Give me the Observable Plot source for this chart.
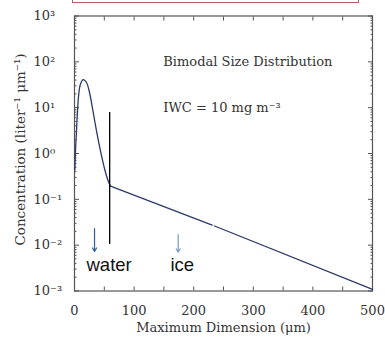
<!DOCTYPE html>
<html><head><meta charset="utf-8">
<script src="https://cdn.jsdelivr.net/npm/d3@7"></script>
<script src="https://cdn.jsdelivr.net/npm/@observablehq/plot@0.6"></script>
<style>
body{margin:0;background:#fff;}
#wrap{position:relative;width:385px;height:339px;overflow:hidden;}
#box{position:absolute;left:72px;top:-10px;width:285px;height:11px;border:1px solid #b0605c;background:#fff;}
</style></head><body><div id="wrap"><div id="box"></div></div>
<script>
// Size distribution curve (Maximum dimension in µm, concentration per liter per µm)
const curveD   = [0.5, 1.7, 3.4, 4.5, 7.2, 10.1, 14.6, 20.1, 25.2, 30.2, 34.4, 39.4, 45.3, 51.2, 56.2, 60.4, 231, 235, 500];
const curveC   = [0.43, 1.16, 3.2, 6.2, 20, 33, 41, 35.4, 21.4, 9.6, 4.74, 2.12, 0.90, 0.426, 0.258, 0.195, 0.0275, 0.0262, 0.00108];
// 0 = small-particle mode (smooth), 1 and 2 = large-particle tail pieces (straight on log axis)
const curveSeg = [0,0,0,0,0,0,0,0,0,0,0,0,0,0,0,0,1,2,2];

// Mode divider line
const dividerD = [59];
const dividerLow = [0.0103];
const dividerHigh = [7.8];

// Arrows
const arrowName = ["water", "ice"];
const arrowD = [33.6, 174];
const arrowTop = [0.0231, 0.0171];
const arrowBottom = [0.0073, 0.0070];
const arrowColor = ["#2d5f97", "#7b9cc2"];
const arrowLabelD = [20.1, 161];
const arrowLabelC = [0.0028, 0.0028];

// Annotations
const noteText = ["Bimodal Size Distribution", "IWC = 10 mg m\u207B\u00B3"];
const noteD = [149, 149];
const noteC = [100, 10];

// Axes
const xLabelTicks = [0, 100, 200, 300, 400, 500];
const xMinorTicks = [0, 50, 100, 150, 200, 250, 300, 350, 400, 450, 500];
const yExponents = [-3, -2, -1, 0, 1, 2, 3];
const supMap = {"-":"\u207B","0":"\u2070","1":"\u00B9","2":"\u00B2","3":"\u00B3"};
const yLabels = yExponents.map(e => "10" + String(e).split("").map(c => supMap[c]).join(""));
const yMajor = yExponents.map(e => Math.pow(10, e));
const yMinor = d3.scaleLog().domain([1e-3, 1e3]).ticks().filter(v => !yMajor.some(m => Math.abs(m - v) / m < 1e-9));

const xTitle = "Maximum Dimension (\u03BCm)";
const yTitle = "Concentration (liter\u207B\u00B9 \u03BCm\u207B\u00B9)";

const curve = curveD.map((d, i) => ({d, c: curveC[i], s: curveSeg[i]}));
const peakPart = curve.filter(p => p.s === 0);
const lastPeak = peakPart[peakPart.length - 1];
const tailPart = [{...lastPeak, s: 1}, ...curve.filter(p => p.s > 0)];
const arrows = arrowName.map((n, i) => ({n, d: arrowD[i], top: arrowTop[i], bottom: arrowBottom[i], color: arrowColor[i], ld: arrowLabelD[i], lc: arrowLabelC[i]}));
const notes = noteText.map((t, i) => ({t, d: noteD[i], c: noteC[i]}));
const yLabelOf = new Map(yMajor.map((v, i) => [v, yLabels[i]]));

const axisStroke = "#555";
const lineColor = "#2b3a6b";
const plot = Plot.plot({
  width: 385, height: 339,
  marginLeft: 74, marginRight: 13, marginTop: 15.5, marginBottom: 48.5,
  style: {fontFamily: "DejaVu Serif", fontSize: "13px", color: "#333", background: "transparent"},
  x: {domain: [0, 500]},
  y: {type: "log", domain: [1e-3, 1e3]},
  marks: [
    Plot.frame({stroke: axisStroke, strokeWidth: 1.2}),
    Plot.axisX(xMinorTicks, {anchor: "bottom", tickSize: -4, tickFormat: () => "", stroke: axisStroke}),
    Plot.axisX(xMinorTicks, {anchor: "top", tickSize: -4, tickFormat: () => "", stroke: axisStroke}),
    Plot.axisX(xLabelTicks, {anchor: "bottom", tickSize: 0, tickPadding: 15, tickFormat: d => String(d)}),
    Plot.axisY(yMajor, {anchor: "left", tickSize: -5, tickFormat: () => "", stroke: axisStroke}),
    Plot.axisY(yMajor, {anchor: "right", tickSize: -5, tickFormat: () => "", stroke: axisStroke}),
    Plot.axisY(yMinor, {anchor: "left", tickSize: -2.5, tickFormat: () => "", stroke: axisStroke}),
    Plot.axisY(yMinor, {anchor: "right", tickSize: -2.5, tickFormat: () => "", stroke: axisStroke}),
    Plot.axisY(yMajor, {anchor: "left", tickSize: 0, tickPadding: 41, textAnchor: "start", tickFormat: v => yLabelOf.get(v)}),
    Plot.text([xTitle], {frameAnchor: "bottom", dy: 41, fontSize: 13}),
    Plot.text([yTitle], {frameAnchor: "left", rotate: -90, textAnchor: "middle", dx: -54, dy: -4, fontSize: 13.5}),
    Plot.line(peakPart, {x: "d", y: "c", stroke: lineColor, strokeWidth: 1.3, curve: "catmull-rom"}),
    Plot.line(tailPart, {x: "d", y: "c", z: "s", stroke: lineColor, strokeWidth: 1.3}),
    Plot.ruleX(dividerD.map((d, i) => ({d, lo: dividerLow[i], hi: dividerHigh[i]})), {x: "d", y1: "lo", y2: "hi", stroke: "#000", strokeWidth: 1.3}),
    Plot.arrow(arrows, {x1: "d", y1: "top", x2: "d", y2: "bottom", stroke: "color", strokeWidth: 1.2, headLength: 5}),
    Plot.text(arrows, {x: "ld", y: "lc", text: "n", textAnchor: "start", lineAnchor: "bottom", fontFamily: "Liberation Sans", fontSize: 18.5, fill: "#111"}),
    Plot.text(notes, {x: "d", y: "c", text: "t", textAnchor: "start", fontSize: 13, fill: "#333"})
  ]
});
document.getElementById("wrap").prepend(plot);
</script>
</body></html>
